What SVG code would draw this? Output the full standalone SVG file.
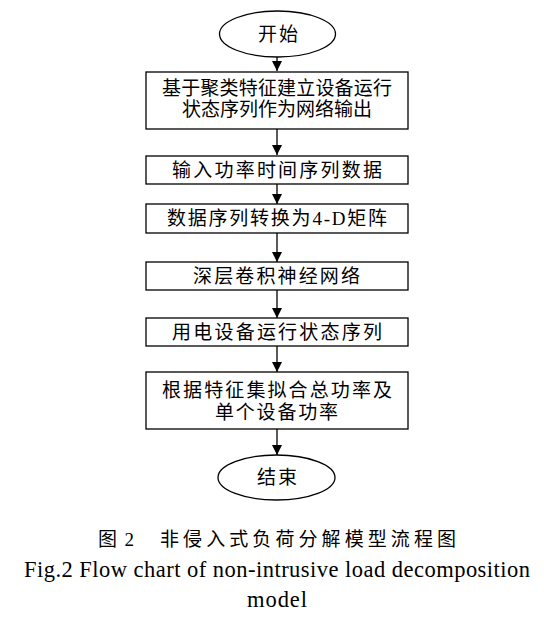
<svg xmlns="http://www.w3.org/2000/svg" width="544" height="621" viewBox="0 0 544 621">
<defs>
<style>
.box{fill:#fff;stroke:#000;stroke-width:1.3}
.t{font-family:"Liberation Serif","Noto Sans CJK SC",serif;font-size:19px;fill:#000}
.cap{font-family:"Liberation Serif","Noto Sans CJK SC",serif;fill:#000}
.ln{stroke:#000;stroke-width:1.3;fill:none}
</style>
</defs>
<rect width="544" height="621" fill="#fff"/>
<g id="connectors">
<line class="ln" x1="277" y1="57" x2="277" y2="71"/>
<path d="M272,61 L282,61 L277,71 Z"/>
<line class="ln" x1="277" y1="129" x2="277" y2="155"/>
<path d="M272,145 L282,145 L277,155 Z"/>
<line class="ln" x1="277" y1="184" x2="277" y2="204"/>
<path d="M272,194 L282,194 L277,204 Z"/>
<line class="ln" x1="277" y1="233" x2="277" y2="262"/>
<path d="M272,252 L282,252 L277,262 Z"/>
<line class="ln" x1="277" y1="290" x2="277" y2="318"/>
<path d="M272,308 L282,308 L277,318 Z"/>
<line class="ln" x1="277" y1="346" x2="277" y2="372"/>
<path d="M272,362 L282,362 L277,372 Z"/>
<line class="ln" x1="277" y1="429" x2="277" y2="455"/>
<path d="M272,445 L282,445 L277,455 Z"/>
</g>
<g id="start">
<ellipse class="box" cx="277.5" cy="34" rx="58" ry="23"/>
<text class="t" x="258" y="41" textLength="40">开始</text>
</g>
<g id="n1">
<rect class="box" x="146" y="72" width="262" height="57"/>
<text class="t" x="162" y="95" textLength="230">基于聚类特征建立设备运行</text>
<text class="t" x="182" y="116" textLength="190">状态序列作为网络输出</text>
</g>
<g id="n2">
<rect class="box" x="146" y="156" width="262" height="28"/>
<text class="t" x="172" y="177" textLength="210">输入功率时间序列数据</text>
</g>
<g id="n3">
<rect class="box" x="146" y="204" width="262" height="29"/>
<text class="t" x="167" y="225" textLength="220">数据序列转换为4-D矩阵</text>
</g>
<g id="n4">
<rect class="box" x="146" y="262" width="262" height="28"/>
<text class="t" x="193" y="283" textLength="167">深层卷积神经网络</text>
</g>
<g id="n5">
<rect class="box" x="146" y="318" width="262" height="28"/>
<text class="t" x="172" y="339" textLength="210">用电设备运行状态序列</text>
</g>
<g id="n6">
<rect class="box" x="146" y="372" width="262" height="57"/>
<text class="t" x="162" y="397" textLength="230">根据特征集拟合总功率及</text>
<text class="t" x="215" y="419" textLength="123">单个设备功率</text>
</g>
<g id="end">
<ellipse class="box" cx="276.5" cy="477.5" rx="58.5" ry="22.5"/>
<text class="t" x="257" y="484" textLength="40">结束</text>
</g>
<g id="caption">
<text class="cap" x="98" y="546" font-size="19" textLength="36">图 2</text>
<text class="cap" x="160" y="546" font-size="19" textLength="296">非侵入式负荷分解模型流程图</text>
<text class="cap" x="24" y="577" font-size="22.5" textLength="506">Fig.2 Flow chart of non-intrusive load decomposition</text>
<text class="cap" x="247" y="607" font-size="22.5" textLength="60">model</text>
</g>
</svg>
